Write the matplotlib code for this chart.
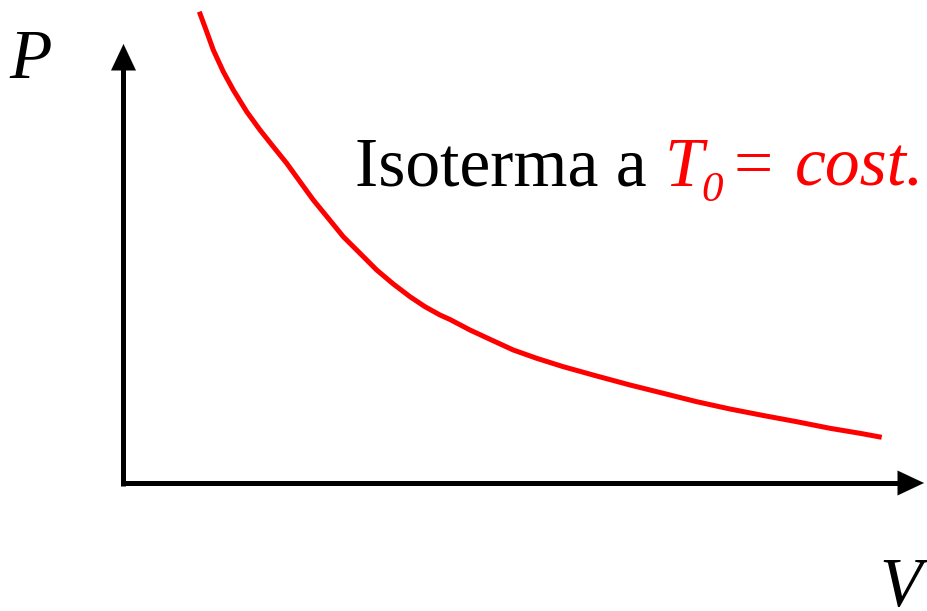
import matplotlib
matplotlib.use("Agg")
import matplotlib.pyplot as plt

# Isotherm curve (V, P), in picture coordinates
curve_v = [199.3, 206.7, 213.3, 223.3, 233.3, 246.7, 260.0, 273.3, 286.7, 300.0,
           313.3, 328.3, 343.3, 360.0, 376.7, 393.3, 410.0, 425.0, 440.0, 450.0,
           470.0, 490.0, 513.3, 536.7, 563.3, 596.7, 630.0, 663.3, 696.7, 730.0,
           763.3, 796.7, 830.0, 860.0, 881.7]
curve_p = [11.7, 31.7, 50.0, 71.7, 90.0, 111.7, 130.0, 146.7, 163.3, 181.7,
           200.0, 218.3, 236.7, 253.3, 270.0, 284.0, 296.7, 306.7, 315.0, 319.5,
           330.0, 339.3, 350.0, 358.3, 366.7, 376.0, 385.0, 393.3, 401.7, 409.0,
           415.5, 421.7, 428.3, 433.3, 437.3]

label_text = "Isoterma a "
label_T = "T"
label_sub = "0"
label_eq = "="
label_cost = "cost."
x_label = "V"
y_label = "P"

fig = plt.figure(figsize=(9.28, 6.11), dpi=100)
ax = fig.add_axes([0, 0, 1, 1])
ax.set_xlim(0, 928)
ax.set_ylim(611, 0)
ax.axis("off")

serif = ["Liberation Serif", "DejaVu Serif"]

# axes arrows
ax.plot([123.5, 123.5], [485.5, 60], color="black", lw=3.6, solid_capstyle="butt")
ax.plot([121, 910], [483, 483], color="black", lw=3.6, solid_capstyle="butt")
ax.annotate("", xy=(123.5, 44), xytext=(123.5, 75),
            arrowprops=dict(arrowstyle="-|>,head_length=0.7,head_width=0.33",
                            color="black", lw=0.1, mutation_scale=27, shrinkA=0, shrinkB=0))
ax.annotate("", xy=(924, 483), xytext=(895, 483),
            arrowprops=dict(arrowstyle="-|>,head_length=0.7,head_width=0.33",
                            color="black", lw=0.1, mutation_scale=27, shrinkA=0, shrinkB=0))

ax.plot(curve_v, curve_p, color="#ff0000", lw=3.6, solid_capstyle="butt",
        solid_joinstyle="round")

fs = 50
ax.text(9, 78, y_label, family=serif, style="italic", fontsize=fs, color="black",
        ha="left", va="baseline")
ax.text(879, 606, x_label, family=serif, style="italic", fontsize=fs, color="black",
        ha="left", va="baseline")

ax.text(355, 186, label_text, family=serif, fontsize=fs, color="black", ha="left", va="baseline")
ax.text(664, 186, label_T, family=serif, style="italic", fontsize=fs, color="#ff0000",
        ha="left", va="baseline")
ax.text(701, 201, label_sub, family=serif, style="italic", fontsize=31, color="#ff0000",
        ha="left", va="baseline")
ax.text(734, 186, label_eq, family=serif, fontsize=fs, color="#ff0000", ha="left", va="baseline")
ax.text(795, 186, label_cost, family=serif, style="italic", fontsize=fs, color="#ff0000",
        ha="left", va="baseline")

fig.savefig("out.png", dpi=100)
